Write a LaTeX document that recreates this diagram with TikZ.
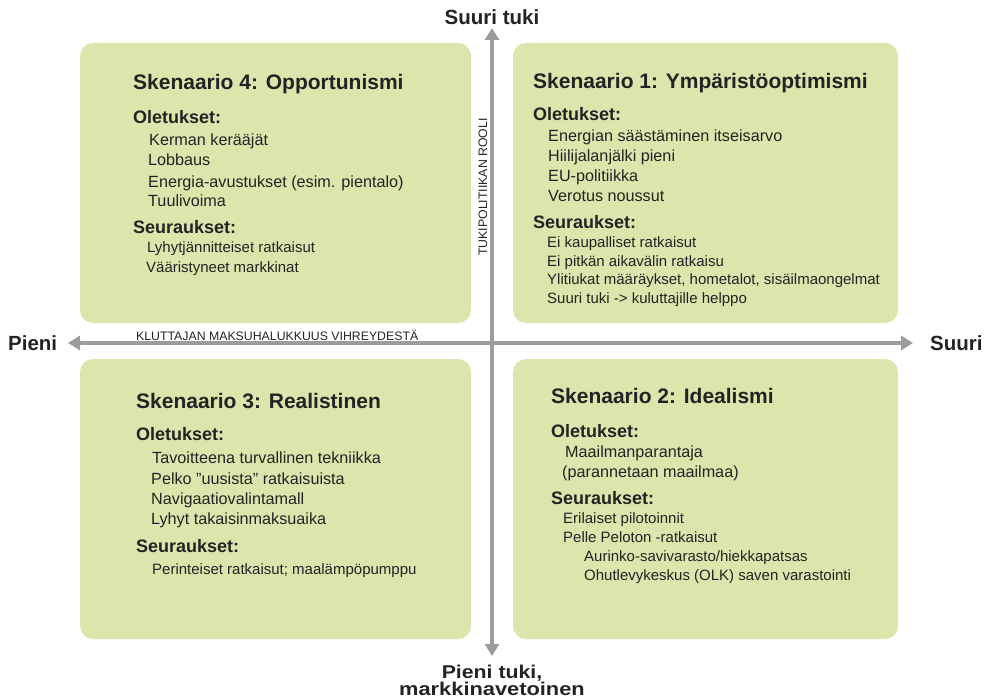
\documentclass[tikz,border=0pt]{standalone}
\usepackage{fontspec}
\setmainfont{Liberation Sans}
\usetikzlibrary{arrows.meta}

\definecolor{panelfill}{HTML}{DDE5AD}
\definecolor{axisgray}{HTML}{9C9C9C}
\definecolor{ink}{HTML}{232323}

\tikzset{
  panel/.style={fill=panelfill, draw=none, rounded corners=13pt,
                minimum height=280pt, inner sep=0pt},
  txt/.style={anchor=west, inner sep=0pt, text height=1.1em, text depth=0pt, text=ink},
  title/.style={txt, font=\fontsize{21}{23}\selectfont\bfseries},
  head/.style={txt, font=\fontsize{18}{20}\selectfont\bfseries},
  item/.style={txt, font=\fontsize{16.2}{18}\selectfont},
  small/.style={txt, font=\fontsize{15}{17}\selectfont},
  axislabel/.style={inner sep=0pt, text=ink, font=\fontsize{20.5}{22}\selectfont\bfseries},
  bottomlabel/.style={inner sep=0pt, text=ink, anchor=base, text height=0.72em, text depth=0pt,
                      font=\fontsize{18.5}{20}\selectfont\bfseries},
  axiscaption/.style={inner sep=0pt, text=ink, font=\fontsize{12.3}{14}\selectfont},
  axisline/.style={draw=axisgray, line width=4.5pt,
                   {Triangle[length=12pt,width=14pt]}-{Triangle[length=12pt,width=14pt]}},
}

\begin{document}
\begin{tikzpicture}[x=1pt,y=-1pt]
\useasboundingbox (0,0) rectangle (989,698);

% quadrant panels
\node[panel, minimum width=391pt] (p4) at (275.5,183) {};
\node[panel, minimum width=385pt] (p1) at (705.5,183) {};
\node[panel, minimum width=391pt] (p3) at (275.5,499) {};
\node[panel, minimum width=385pt] (p2) at (705.5,499) {};

% axes
\coordinate (top) at (492,28);
\coordinate (bottom) at (492,656);
\coordinate (left) at (68,343);
\coordinate (right) at (913,343);
\draw[axisline] (bottom) -- (top);
\draw[axisline] (left) -- (right);

% axis labels
\node[axislabel] (ytop) at (492,17) {Suuri tuki};
\node[bottomlabel] (ybot1) at (492,678) {\scalebox{1.15}[1]{Pieni tuki,}};
\node[bottomlabel] (ybot2) at (492,695) {\scalebox{1.18}[1]{markkinavetoinen}};
\node[axislabel, anchor=west] (xleft) at (8,343) {Pieni};
\node[axislabel, anchor=west] (xright) at (930,343) {Suuri};
\node[axiscaption, anchor=west] (xcap) at (136,335) {KLUTTAJAN MAKSUHALUKKUUS VIHREYDESTÄ};
\node[axiscaption, rotate=90] (ycap) at (483,187) {TUKIPOLITIIKAN ROOLI};

% Skenaario 4
\node[title] (t4) at (133,84) {Skenaario 4: Opportunismi};
\node[head] (o4) at (133,118) {Oletukset:};
\node[item] (o4a) at (149,140) {Kerman kerääjät};
\node[item] (o4b) at (148,160) {Lobbaus};
\node[item] (o4c) at (148,182) {Energia-avustukset (esim. pientalo)};
\node[item] (o4d) at (148,201) {Tuulivoima};
\node[head] (s4) at (133,228) {Seuraukset:};
\node[small] (s4a) at (147,247) {Lyhytjännitteiset ratkaisut};
\node[small] (s4b) at (146,267) {Vääristyneet markkinat};

% Skenaario 1
\node[title] (t1) at (533,83) {Skenaario 1: Ympäristöoptimismi};
\node[head] (o1) at (533,115) {Oletukset:};
\node[item] (o1a) at (548,136) {Energian säästäminen itseisarvo};
\node[item] (o1b) at (548,156) {Hiilijalanjälki pieni};
\node[item] (o1c) at (548,176) {EU-politiikka};
\node[item] (o1d) at (548,196) {Verotus noussut};
\node[head] (s1) at (533,223) {Seuraukset:};
\node[small] (s1a) at (547,242) {Ei kaupalliset ratkaisut};
\node[small] (s1b) at (547,261) {Ei pitkän aikavälin ratkaisu};
\node[small] (s1c) at (547,279) {Ylitiukat määräykset, hometalot, sisäilmaongelmat};
\node[small] (s1d) at (547,298) {Suuri tuki -> kuluttajille helppo};

% Skenaario 3
\node[title] (t3) at (136,403) {Skenaario 3: Realistinen};
\node[head] (o3) at (136,435) {Oletukset:};
\node[item] (o3a) at (152,458) {Tavoitteena turvallinen tekniikka};
\node[item] (o3b) at (151,479) {Pelko ”uusista” ratkaisuista};
\node[item] (o3c) at (151,499) {Navigaatiovalintamall};
\node[item] (o3d) at (151,519) {Lyhyt takaisinmaksuaika};
\node[head] (s3) at (136,547) {Seuraukset:};
\node[small] (s3a) at (152,569) {Perinteiset ratkaisut; maalämpöpumppu};

% Skenaario 2
\node[title] (t2) at (551,398) {Skenaario 2: Idealismi};
\node[head] (o2) at (551,432) {Oletukset:};
\node[item] (o2a) at (565,452) {Maailmanparantaja};
\node[item] (o2b) at (562,472) {(parannetaan maailmaa)};
\node[head] (s2) at (551,499) {Seuraukset:};
\node[small] (s2a) at (563,518) {Erilaiset pilotoinnit};
\node[small] (s2b) at (563,537) {Pelle Peloton -ratkaisut};
\node[small] (s2c) at (584,556) {Aurinko-savivarasto/hiekkapatsas};
\node[small] (s2d) at (584,575) {Ohutlevykeskus (OLK) saven varastointi};
\end{tikzpicture}
\end{document}
